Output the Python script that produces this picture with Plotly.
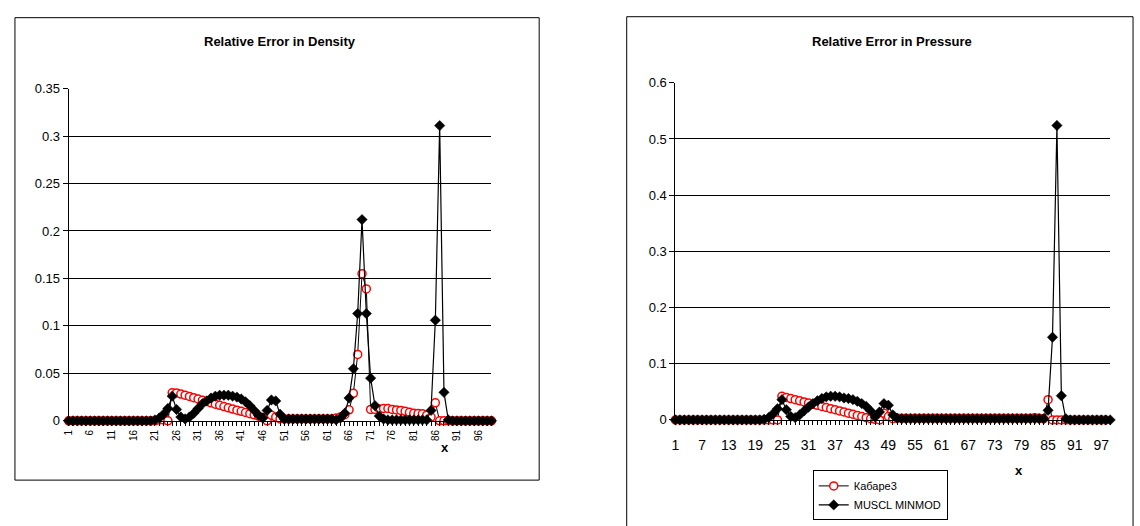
import plotly.graph_objects as go

W, H = 1140, 526
N = 99
x_vals = list(range(1, N + 1))

# ---------------- Density (left chart) ----------------
dens_kabare = [0.0] * 21 + [0.001, 0.001, 0.0,
    0.0296, 0.0294, 0.0282, 0.0270, 0.0257, 0.0244, 0.0230, 0.0217, 0.0203, 0.0190,
    0.0176, 0.0163, 0.0150, 0.0137, 0.0124, 0.0112, 0.0100, 0.0088, 0.0076, 0.0064,
    0.0050, 0.0035, 0.0,
    0.006, 0.004, 0.002,
    0.002, 0.002, 0.002, 0.002, 0.002, 0.002, 0.002, 0.002, 0.002, 0.002, 0.002, 0.002,
    0.003, 0.004, 0.0065, 0.0116, 0.029, 0.070, 0.155, 0.139,
    0.012, 0.012, 0.0125, 0.013, 0.013, 0.012, 0.0115, 0.011, 0.010, 0.009, 0.008,
    0.0078, 0.0075, 0.006, 0.004, 0.019, 0.0, 0.0] + [0.0] * 11

dens_muscl = [0.0] * 20 + [0.001, 0.003, 0.007, 0.013, 0.026, 0.012, 0.004, 0.002,
    0.004, 0.008, 0.013, 0.018, 0.021, 0.024, 0.026, 0.027, 0.027, 0.027, 0.026,
    0.025, 0.023, 0.020, 0.016, 0.011, 0.006, 0.003,
    0.011, 0.022, 0.021, 0.007, 0.002,
    0.002, 0.002, 0.002, 0.002, 0.002, 0.002, 0.002, 0.002, 0.002, 0.002, 0.002,
    0.001, 0.003, 0.008, 0.024, 0.055, 0.113, 0.212, 0.113, 0.045, 0.016, 0.005, 0.002,
    0.001, 0.001, 0.001, 0.001, 0.001, 0.001, 0.001, 0.001, 0.001, 0.001,
    0.011, 0.106, 0.311, 0.030, 0.001] + [0.0] * 10

# ---------------- Pressure (right chart) ----------------
pres_kabare = [0.0] * 24 + [
    0.042, 0.040, 0.038, 0.036, 0.034, 0.032, 0.030, 0.028, 0.026, 0.024, 0.022,
    0.020, 0.018, 0.016, 0.014, 0.012, 0.010, 0.008, 0.006, 0.004, 0.002, 0.001, 0.0,
    0.012, 0.006, 0.002] + [0.003] * 31 + [0.004, 0.003, 0.002,
    0.036, 0.0, 0.0] + [0.0] * 11

pres_muscl = [0.0] * 20 + [0.001, 0.004, 0.011, 0.020, 0.036, 0.018, 0.006, 0.004,
    0.009, 0.016, 0.023, 0.029, 0.034, 0.038, 0.041, 0.042, 0.042, 0.041, 0.039,
    0.038, 0.036, 0.033, 0.029, 0.024, 0.016, 0.005,
    0.014, 0.029, 0.026, 0.009, 0.003] + [0.002] * 33 + [
    0.017, 0.147, 0.524, 0.043, 0.002] + [0.0] * 10

left_ticks = list(range(1, 97, 5))
right_ticks = list(range(1, 98, 6))
dens_yticks = [0, 0.05, 0.1, 0.15, 0.2, 0.25, 0.3, 0.35]
dens_ylabels = ["0", "0.05", "0.1", "0.15", "0.2", "0.25", "0.3", "0.35"]
pres_yticks = [0, 0.1, 0.2, 0.3, 0.4, 0.5, 0.6]
pres_ylabels = ["0", "0.1", "0.2", "0.3", "0.4", "0.5", "0.6"]

names = ["Кабаре3", "MUSCL MINMOD"]

FONT = "Liberation Sans, Arial, sans-serif"

def px(x):
    return x / W

def py(y):
    return 1 - y / H

fig = go.Figure()

red_marker = dict(symbol="circle", size=8, color="white", line=dict(color="#ff0000", width=1.5))
blk_marker = dict(symbol="diamond", size=8, color="black", line=dict(color="black", width=0.5))

for xa, ya, ka, mu, show in [("x", "y", dens_kabare, dens_muscl, False),
                             ("x2", "y2", pres_kabare, pres_muscl, True)]:
    fig.add_trace(go.Scatter(x=x_vals, y=ka, mode="lines+markers", name=names[0],
                             line=dict(color="black", width=1), marker=red_marker,
                             xaxis=xa, yaxis=ya, showlegend=show, cliponaxis=False))
    fig.add_trace(go.Scatter(x=x_vals, y=mu, mode="lines+markers", name=names[1],
                             line=dict(color="black", width=1.2), marker=blk_marker,
                             xaxis=xa, yaxis=ya, showlegend=show, cliponaxis=False))

def xaxis(domain, ticks, size, angle, standoff):
    return dict(domain=domain, range=[1, N], tickmode="array",
                tickvals=x_vals,
                ticktext=[str(v) if v in ticks else "" for v in x_vals],
                tickangle=angle, ticks="outside", ticklen=4, tickcolor="black",
                tickwidth=1, showline=True, linecolor="black", linewidth=1,
                showgrid=False, zeroline=False, fixedrange=True,
                ticklabelstandoff=standoff,
                tickfont=dict(family=FONT, size=size, color="black"))

def yaxis(domain, rng, tv, tt, anchor):
    return dict(domain=domain, range=rng, tickmode="array", tickvals=tv, ticktext=tt,
                ticks="outside", ticklen=5, tickcolor="black", showline=True,
                linecolor="black", linewidth=1, showgrid=True, gridcolor="black",
                gridwidth=1, zeroline=False, anchor=anchor, fixedrange=True,
                tickfont=dict(family=FONT, size=13, color="black"))

def note(text, x, y, size=13):
    return dict(text=text, x=px(x), y=py(y), xref="paper", yref="paper",
                xanchor="center", yanchor="middle", showarrow=False,
                font=dict(family=FONT, size=size, color="black"))

fig.update_layout(
    width=W, height=H,
    margin=dict(l=0, r=0, t=0, b=0, pad=0),
    paper_bgcolor="white", plot_bgcolor="white",
    xaxis=xaxis([px(63), px(488)], left_ticks, 10, -90, 0) | dict(anchor="y"),
    yaxis=yaxis([py(426), py(84)], [0, 0.35], dens_yticks, dens_ylabels, "x"),
    xaxis2=xaxis([px(673), px(1110)], right_ticks, 14, 0, 8) | dict(anchor="y2"),
    yaxis2=yaxis([py(425), py(78)], [0, 0.6], pres_yticks, pres_ylabels, "x2"),
    legend=dict(x=px(811), y=py(477), xanchor="left", yanchor="top",
                bgcolor="white", bordercolor="black", borderwidth=1,
                font=dict(family=FONT, size=11, color="black"),
                tracegroupgap=0, itemwidth=30),
    showlegend=True,
    shapes=[
        dict(type="rect", xref="paper", yref="paper", x0=px(9), x1=px(536),
             y0=py(487), y1=py(11), line=dict(color="black", width=1)),
        dict(type="rect", xref="paper", yref="paper", x0=px(624), x1=px(1133),
             y0=py(540), y1=py(10), line=dict(color="black", width=1)),
    ],
    annotations=[
        note("<b>Relative Error in Density</b>", 275.5, 35),
        note("<b>Relative Error in Pressure</b>", 891, 35),
        note("<b>x</b>", 441, 453),
        note("<b>x</b>", 1018, 477),
    ],
)

fig.write_html("out.html")
